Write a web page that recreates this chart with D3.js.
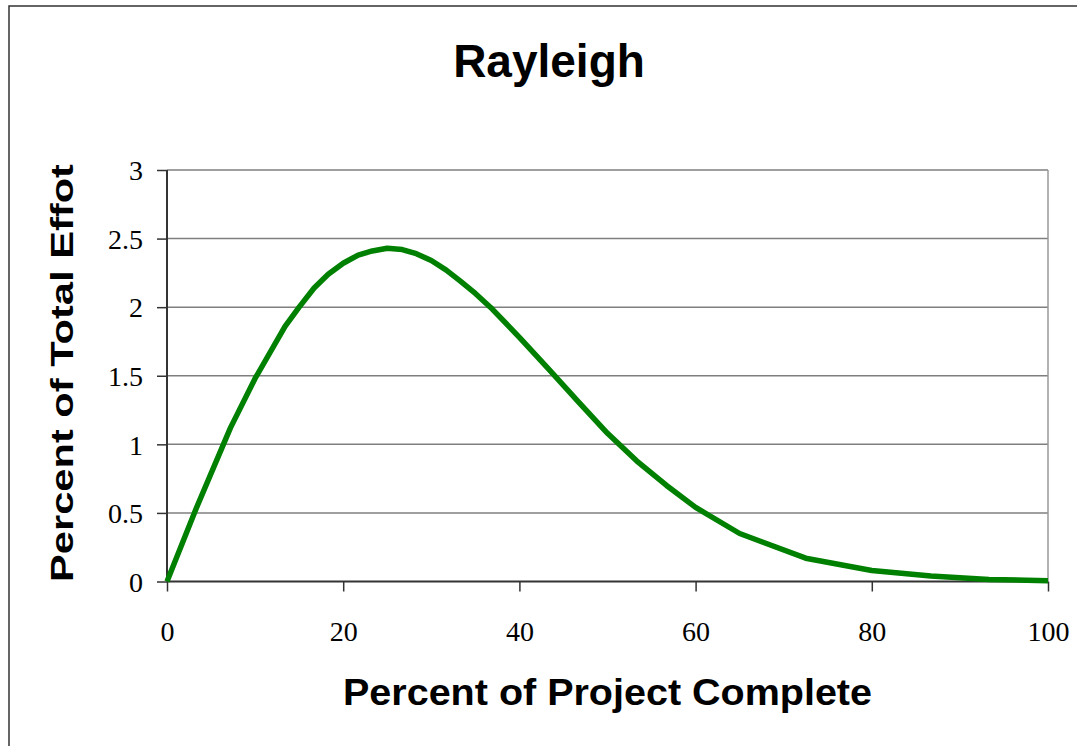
<!DOCTYPE html>
<html><head><meta charset="utf-8">
<script src="https://cdn.jsdelivr.net/npm/d3@7"></script>
<style>body{margin:0;background:#fff}svg{display:block}</style>
</head><body>
<script>
const xValues = [0, 3.3, 7.2, 10, 13.4, 15, 16.7, 18.3, 20, 21.7, 23.3, 25, 26.7, 28.3, 30, 31.7, 33.3, 35, 36.7, 40, 43.3, 46.7, 50, 53.3, 56.7, 60, 65, 72.5, 80, 86.7, 93.3, 100];
const effort  = [0, 0.53, 1.12, 1.48, 1.86, 2.00, 2.14, 2.24, 2.32, 2.38, 2.41, 2.43, 2.42, 2.39, 2.34, 2.27, 2.19, 2.10, 2.00, 1.78, 1.55, 1.31, 1.08, 0.88, 0.70, 0.54, 0.35, 0.17, 0.08, 0.04, 0.015, 0.005];
const xTicks = [0, 20, 40, 60, 80, 100];
const yTicks = [0, 0.5, 1, 1.5, 2, 2.5, 3];
const yTickLabels = ["0", "0.5", "1", "1.5", "2", "2.5", "3"];
const titleText = "Rayleigh";
const xTitle = "Percent of Project Complete";
const yTitle = "Percent of Total Effot";

const W = 1077, H = 746;
const svg = d3.select("body").append("svg").attr("width", W).attr("height", H);
svg.append("rect").attr("x", 9).attr("y", 6).attr("width", 1100).attr("height", 800)
  .attr("fill", "#fff").attr("stroke", "#333").attr("stroke-width", 1.5);

const L = 167, R = 1048, T = 170, B = 581.5;
const x = d3.scaleLinear().domain([0, 100]).range([L, R]);
const y = d3.scaleLinear().domain([0, 3]).range([B, T]);

// gridlines
svg.append("g").selectAll("line").data(yTicks.filter(d => d > 0)).join("line")
  .attr("x1", L).attr("x2", R).attr("y1", d => y(d)).attr("y2", d => y(d))
  .attr("stroke", "#7f7f7f").attr("stroke-width", 1.5);
// right border
svg.append("line").attr("x1", R).attr("x2", R).attr("y1", T).attr("y2", B)
  .attr("stroke", "#999").attr("stroke-width", 1.5);

// y axis
const yAxis = svg.append("g").attr("transform", `translate(${L},0)`)
  .call(d3.axisLeft(y).tickValues(yTicks).tickFormat((d, i) => yTickLabels[i]).tickSize(10).tickPadding(14));
yAxis.select(".domain").attr("stroke", "#333").attr("stroke-width", 2).attr("d", `M0,${T}V${B}`);
yAxis.selectAll(".tick line").attr("stroke", "#333").attr("stroke-width", 1.5);
yAxis.selectAll(".tick text").attr("font-family", "Liberation Serif, Times New Roman, serif")
  .attr("font-size", 28).attr("fill", "#000").attr("dy", "0.35em");

// x axis
const xAxis = svg.append("g").attr("transform", `translate(0,${B})`)
  .call(d3.axisBottom(x).tickValues(xTicks).tickSize(10).tickPadding(30));
xAxis.select(".domain").attr("stroke", "#333").attr("stroke-width", 2).attr("d", `M${L},0H${R}`);
xAxis.selectAll(".tick line").attr("stroke", "#333").attr("stroke-width", 1.5);
xAxis.selectAll(".tick text").attr("font-family", "Liberation Serif, Times New Roman, serif")
  .attr("font-size", 28).attr("fill", "#000");

// curve
const pts = xValues.map((v, i) => [v, effort[i]]);
svg.append("path").datum(pts)
  .attr("d", d3.line().x(d => x(d[0])).y(d => y(d[1])))
  .attr("fill", "none").attr("stroke", "#008000").attr("stroke-width", 5.5)
  .attr("stroke-linejoin", "round");

// titles
const sans = "Liberation Sans, Arial, Helvetica, sans-serif";
svg.append("text").attr("x", 549).attr("y", 77).attr("text-anchor", "middle")
  .attr("font-family", sans).attr("font-weight", "bold").attr("font-size", 46).text(titleText);
svg.append("text").attr("x", 607.5).attr("y", 705).attr("text-anchor", "middle")
  .attr("font-family", sans).attr("font-weight", "bold").attr("font-size", 36)
  .attr("textLength", 529).attr("lengthAdjust", "spacingAndGlyphs").text(xTitle);
svg.append("text").attr("transform", "translate(73,373) rotate(-90)").attr("text-anchor", "middle")
  .attr("font-family", sans).attr("font-weight", "bold").attr("font-size", 31)
  .attr("textLength", 418).attr("lengthAdjust", "spacingAndGlyphs").text(yTitle);
</script>
</body></html>
